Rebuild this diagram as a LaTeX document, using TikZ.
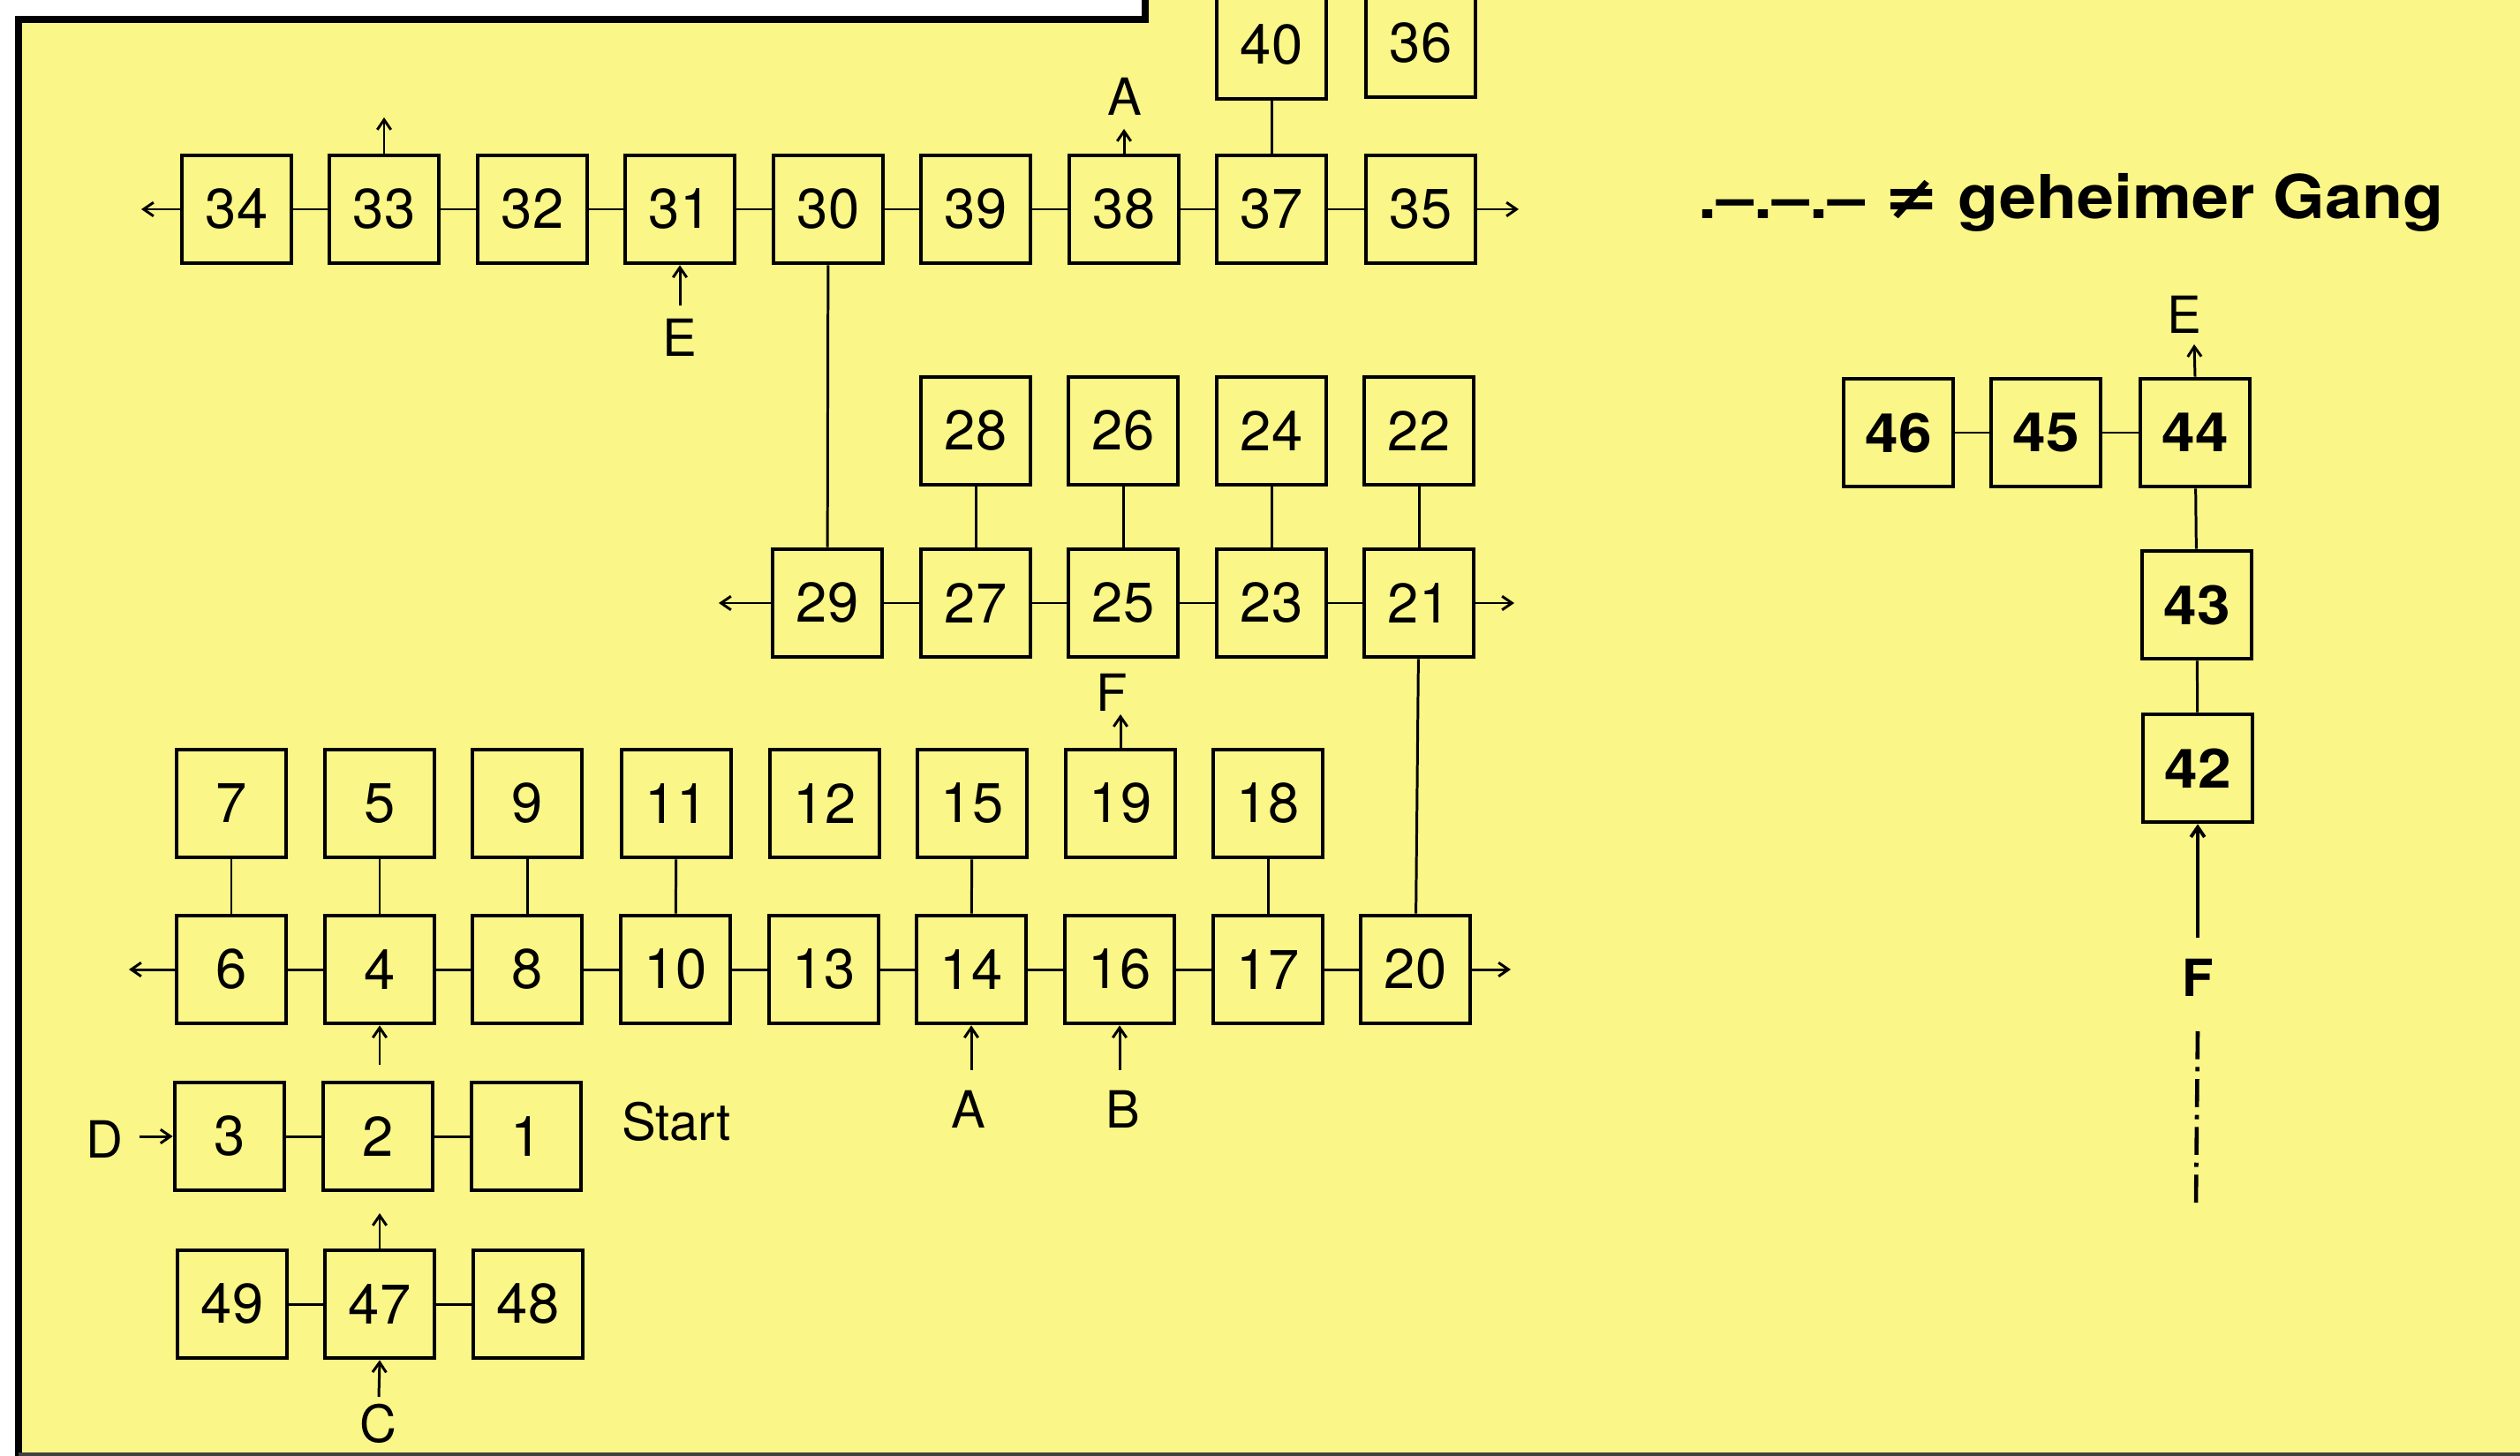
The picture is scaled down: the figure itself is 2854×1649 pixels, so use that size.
\documentclass[tikz,border=0pt]{standalone}
\usepackage{fontspec}
\setmainfont{TeX Gyre Heros}
\newfontfamily\djv{DejaVu Sans}
\usetikzlibrary{arrows.meta}
\definecolor{paper}{RGB}{250,246,135}
\newcommand\mynumfont{\fontsize{18}{20}\selectfont}
\newcommand\mybnumfont{\fontsize{17.5}{20}\selectfont\bfseries}
\newcommand\mylabfont{\fontsize{16.5}{18}\selectfont}
\tikzset{
  box/.style={draw, line width=1.3pt, minimum width=1.24cm, minimum height=1.22cm, inner sep=0pt, font=\mynumfont},
  bbox/.style={box, font=\mybnumfont},
  link/.style={line width=0.85pt},
  arr/.style={line width=0.85pt, -{Straight Barb[length=3.2pt,width=4.4pt]}},
  lab/.style={font=\mylabfont, inner sep=0pt},
}
\begin{document}
\begin{tikzpicture}[x=0.01cm, y=-0.01cm]
\useasboundingbox (0,0) rectangle (2854,1649);
\fill[paper] (0,0) rectangle (2854,1649);
\fill[white] (0,0) rectangle (17,1649);
\fill[white] (0,0) rectangle (1297,20);
\draw[line width=2.2pt] (1297,0) -- (1297,22) -- (21,22) -- (21,1649);
\draw[line width=0.9pt, black!75] (21,1647) -- (2854,1647);

% row 1
\foreach \n/\x in {34/268, 33/435, 32/603, 31/770, 30/938, 39/1105, 38/1273, 37/1440, 35/1609}
  \node[box] (n\n) at (\x,237) {\n};
\node[box] (n40) at (1440,51) {40};
\node[box] (n36) at (1609,49) {36};
% row 2
\foreach \n/\x in {29/937, 27/1105, 25/1272, 23/1440, 21/1607}
  \node[box] (n\n) at (\x,683) {\n};
\foreach \n/\x in {28/1105, 26/1272, 24/1440, 22/1607}
  \node[box] (n\n) at (\x,488) {\n};
% row 3
\foreach \n/\x in {6/262, 4/430, 8/597, 10/765, 13/933, 14/1100, 16/1268, 17/1436, 20/1603}
  \node[box] (n\n) at (\x,1098) {\n};
\foreach \n/\x in {7/262, 5/430, 9/597, 11/766, 12/934, 15/1101, 19/1269, 18/1436}
  \node[box] (n\n) at (\x,910) {\n};
% row 4 and 5
\foreach \n/\x in {3/260, 2/428, 1/596}
  \node[box] (n\n) at (\x,1287) {\n};
\foreach \n/\x in {49/263, 47/430, 48/598}
  \node[box] (n\n) at (\x,1477) {\n};
% right cluster
\node[bbox] (n46) at (2150,490) {\scalebox{1.1}[1]{46}};
\node[bbox] (n45) at (2317,490) {\scalebox{1.1}[1]{45}};
\node[bbox] (n44) at (2486,490) {\scalebox{1.1}[1]{44}};
\node[bbox] (n43) at (2488,685) {\scalebox{1.1}[1]{43}};
\node[bbox] (n42) at (2489,870) {\scalebox{1.1}[1]{42}};

% links
\foreach \a/\b in {34/33, 33/32, 32/31, 31/30, 30/39, 39/38, 38/37, 37/35, 40/37,
  30/29, 29/27, 27/25, 25/23, 23/21, 28/27, 26/25, 24/23, 22/21, 21/20,
  6/4, 4/8, 8/10, 10/13, 13/14, 14/16, 16/17, 17/20,
  7/6, 5/4, 9/8, 11/10, 15/14, 18/17,
  3/2, 2/1, 49/47, 47/48,
  46/45, 45/44, 44/43, 43/42}
  \draw[link] (n\a) -- (n\b);

% free ends
\coordinate (a34) at (160,237);
\coordinate (a33) at (435,133);
\coordinate (a38) at (1273,146);
\coordinate (t31) at (770,346);
\coordinate (a35) at (1720,237);
\coordinate (a29) at (814,683);
\coordinate (a21) at (1715,683);
\coordinate (a19) at (1269,809);
\coordinate (a6) at (146,1098);
\coordinate (a20) at (1711,1098);
\coordinate (t14) at (1100,1212);
\coordinate (t16) at (1268,1212);
\coordinate (t4) at (430,1206);
\coordinate (a47) at (430,1374);
\coordinate (tC) at (429,1582);
\coordinate (tD) at (158,1287);
\coordinate (a44) at (2485,390);
\coordinate (t42) at (2489,1062);
\coordinate (f1) at (2489,1168);
\coordinate (f2) at (2487,1362);

\draw[arr] (n34.west) -- (a34);
\draw[arr] (n33.north) -- (a33);
\draw[arr] (n38.north) -- (a38);
\draw[arr] (t31) -- (n31.south);
\draw[arr] (n35.east) -- (a35);
\draw[arr] (n29.west) -- (a29);
\draw[arr] (n21.east) -- (a21);
\draw[arr] (n19.north) -- (a19);
\draw[arr] (n6.west) -- (a6);
\draw[arr] (n20.east) -- (a20);
\draw[arr] (t14) -- (n14.south);
\draw[arr] (t16) -- (n16.south);
\draw[arr] (t4) -- (n4.south);
\draw[arr] (n47.north) -- (a47);
\draw[arr] (tC) -- (n47.south);
\draw[arr] (tD) -- (n3.west);
\draw[arr] (n44.north) -- (a44);
\draw[arr, line width=1.1pt] (t42) -- (n42.south);
\draw[line width=1.3pt, dash pattern=on 9pt off 2.5pt on 1.4pt off 2.5pt] (f1) -- (f2);

% labels
\node[lab] (lA1) at (1274,109) {A};
\node[lab] (lE1) at (770,382) {E};
\node[lab] (lF1) at (1259,784) {F};
\node[lab] (lA2) at (1097,1256) {A};
\node[lab] (lB) at (1272,1256) {B};
\node[lab] (lC) at (428,1612) {C};
\node[lab] (lD) at (118,1290) {D};
\node[lab] (lStart) at (766,1270) {Start};
\node[lab] (lE2) at (2474,356) {E};
\node[lab, font=\mylabfont\bfseries] (lF2) at (2489,1107) {F};

% legend
\node[anchor=base west, inner sep=0pt, font=\fontsize{19.5}{21}\selectfont\bfseries] (legend) at (1923,248)
  {\scalebox{1.1}[1]{.–.–.– {\djv\bfseries ≠} geheimer Gang}};
\end{tikzpicture}
\end{document}
